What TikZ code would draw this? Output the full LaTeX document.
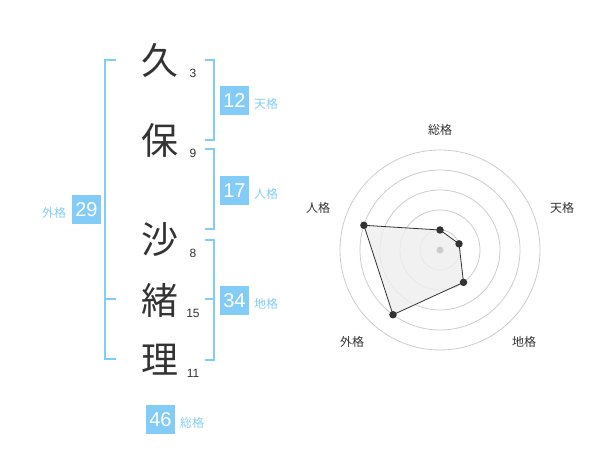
\documentclass[tikz,border=0pt]{standalone}
\usepackage{fontspec}
\setmainfont{Liberation Sans}
\newfontfamily\jp{Noto Sans CJK JP}
\definecolor{kblue}{HTML}{84CCF8}
\definecolor{kdark}{HTML}{333333}
\definecolor{kgrid}{HTML}{CCCCCC}
\definecolor{kfill}{HTML}{EEEEEE}
\tikzset{
  bigchar/.style={inner sep=0pt, text=kdark, font=\jp\fontsize{37}{37}\selectfont},
  strokes/.style={inner sep=0pt, text=kdark, font=\fontsize{12}{12}\selectfont},
  numbox/.style={fill=kblue, text=white, minimum width=29pt, minimum height=29pt, inner sep=0pt, font=\fontsize{20}{20}\selectfont},
  kaku/.style={inner sep=0pt, text=kblue, font=\jp\fontsize{12}{12}\selectfont},
  brk/.style={draw=kblue, line width=2pt},
  radlabel/.style={inner sep=0pt, text=kdark, font=\jp\fontsize{12}{12}\selectfont},
  ring/.style={draw=kgrid, line width=0.8pt},
  dot/.style={circle, fill=kdark, inner sep=0pt, minimum size=7.5pt},
}
\begin{document}
\begin{tikzpicture}[x=1pt, y=-1pt]
\useasboundingbox (0,0) rectangle (600,470);
% name characters
\node[bigchar] (c1) at (160,60) {久};
\node[bigchar] (c2) at (160,140) {保};
\node[bigchar] (c3) at (160,240) {沙};
\node[bigchar] (c4) at (160,300) {緒};
\node[bigchar] (c5) at (160,360) {理};
% stroke counts
\node[strokes] (s1) at (193,73) {3};
\node[strokes] (s2) at (193,153) {9};
\node[strokes] (s3) at (193,253) {8};
\node[strokes] (s4) at (193,313) {15};
\node[strokes] (s5) at (193,373) {11};
% right brackets
\draw[brk] (205,60) -- (214,60) -- (214,140) -- (205,140);
\draw[brk] (205,149) -- (214,149) -- (214,229) -- (205,229);
\draw[brk] (205,240) -- (214,240) -- (214,360) -- (205,360);
\draw[brk] (205,299.5) -- (214,299.5);
% left bracket
\draw[brk] (116,60) -- (105,60) -- (105,359.5) -- (116,359.5);
\draw[brk] (105,299.5) -- (116,299.5);
% number boxes and labels
\node[numbox] (b1) at (234.5,100.5) {12};
\node[kaku] (k1) at (266,104) {天格};
\node[numbox] (b2) at (234.5,190.5) {17};
\node[kaku] (k2) at (266,194) {人格};
\node[numbox] (b3) at (234.5,300.5) {34};
\node[kaku] (k3) at (266,304) {地格};
\node[numbox] (b4) at (86.5,210) {29};
\node[kaku] (k4) at (54,213) {外格};
\node[numbox] (b5) at (160.5,419.5) {46};
\node[kaku] (k5) at (192,423) {総格};
% radar chart
\begin{scope}[shift={(440pt,-250pt)}, x=1pt, y=1pt]
  \foreach \r in {20,40,60,80,100} \draw[ring] (0,0) circle (\r);
  \coordinate (pS) at (90:20);
  \coordinate (pT) at (18:20);
  \coordinate (pC) at (-54:40);
  \coordinate (pG) at (-126:80);
  \coordinate (pJ) at (162:80);
  \draw[fill=kfill, fill opacity=0.85, draw=kdark, line width=0.8pt] (pS) -- (pT) -- (pC) -- (pG) -- (pJ) -- cycle;
  \fill[kgrid] (0,0) circle (3.5);
  \foreach \p in {pS,pT,pC,pG,pJ} \node[dot] at (\p) {};
\end{scope}
\node[radlabel] (rS) at (440,130) {総格};
\node[radlabel] (rT) at (562,208) {天格};
\node[radlabel] (rC) at (524,342) {地格};
\node[radlabel] (rG) at (352,342) {外格};
\node[radlabel] (rJ) at (318,208) {人格};
\end{tikzpicture}
\end{document}
